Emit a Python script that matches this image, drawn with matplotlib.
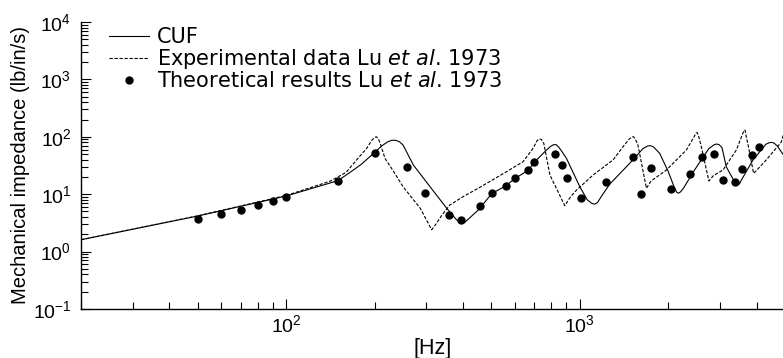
import matplotlib
matplotlib.use("Agg")
import matplotlib.pyplot as plt
from matplotlib.ticker import LogLocator, LogFormatterMathtext, NullFormatter

# ── Data ───────────────────────────────────────────────────────────────
cuf_f = [20, 50, 100, 150, 165, 180, 198, 212, 222, 229, 236, 243, 250, 271,
         309, 352, 380, 395, 405, 420, 451, 502, 560, 600, 667, 703, 760, 795,
         815, 830, 848, 870, 901, 1000, 1060, 1100, 1125, 1150, 1190, 1265,
         1479, 1640, 1700, 1740, 1780, 1830, 1871, 2000, 2100, 2140, 2165,
         2200, 2250, 2460, 2750, 2860, 2920, 2980, 3050, 3155, 3400, 3450,
         3500, 3560, 3890, 4300, 4420, 4500, 4580, 4700, 4897, 5000]
cuf_v = [1.61, 4.17, 9.3, 17.2, 24, 33, 51, 70, 82, 87, 87, 82, 72, 32.3,
         13.5, 5.7, 3.6, 3.15, 3.2, 3.8, 5.3, 10.3, 14, 18.7, 26, 36.8, 55, 68,
         73, 73, 66, 55, 42, 13.5, 8, 6.9, 6.7, 7.2, 9.5, 15,
         34.5, 62, 69, 70, 67, 58, 51.5, 25, 13, 10.8, 10.4,
         10.9, 12.5, 26.4, 62, 72, 75, 73, 65, 30, 15, 14.5,
         15.2, 18, 39.5, 74, 79, 80, 78, 70, 51.5, 45]

exp_f = [20, 50, 100, 141, 160, 174, 188, 196, 200, 203, 206, 209, 217, 232,
         250, 286, 313, 325, 339, 361, 401, 457, 563, 641, 693, 715, 727, 740,
         754, 791, 889, 930, 975, 1110, 1298, 1403, 1470, 1505, 1525, 1545,
         1578, 1686, 1750, 1973, 2307, 2450, 2490, 2515, 2550, 2594, 2753,
         2850, 3075, 3414, 3580, 3630, 3655, 3690, 3734, 3908, 4000, 4314,
         4850, 5000]
exp_v = [1.61, 4.2, 9.5, 16.8, 24, 40, 63, 88, 98, 100, 92, 77, 42, 25,
         13.5, 5.7, 2.4, 3.1, 4.3, 6.5, 9.1, 13.2, 24.7, 36.8, 63, 85, 92, 90,
         77, 21.6, 6.3, 9, 11.8, 21.6, 39.5, 67, 90, 100, 100, 92,
         72, 12.7, 17, 26.4, 58.9, 100, 117, 118, 95, 67, 17,
         21, 26.4, 58.9, 110, 130, 131, 100, 77, 23.1, 26, 39.5,
         80, 135]

theo_f = [50, 60, 70, 80, 90, 100, 150, 200, 258, 298, 359, 393, 458, 502,
          560, 600, 667, 701, 824, 869, 906, 1008, 1224, 1514, 1617, 1753,
          2040, 2372, 2606, 2857, 3065, 3367, 3573, 3863, 4062]
theo_v = [3.7, 4.47, 5.4, 6.56, 7.6, 8.8, 17.2, 52.9, 30.2, 10.6, 4.4, 3.6,
          6.2, 10.5, 14.1, 18.9, 26, 36.4, 50.8, 31.9, 18.9, 8.5, 16.5, 45,
          10.1, 28.3, 12.2, 22.5, 44, 50.8, 17.7, 16.1, 27.8, 47.6, 65.6]

labels = ["CUF",
          r"Experimental data Lu $\mathit{et\ al}$. 1973",
          r"Theoretical results Lu $\mathit{et\ al}$. 1973"]

# ── Figure ─────────────────────────────────────────────────────────────
plt.rcParams["font.family"] = ["Liberation Sans", "DejaVu Sans"]
plt.rcParams["mathtext.fontset"] = "custom"
plt.rcParams["mathtext.rm"] = "Liberation Sans"
plt.rcParams["mathtext.sf"] = "Liberation Sans"
plt.rcParams["mathtext.it"] = "DejaVu Sans:italic"

fig = plt.figure(figsize=(7.83, 3.58), dpi=100)
ax = fig.add_axes([81 / 783, 1 - 309 / 358, 704 / 783, 287 / 358])

ax.plot(cuf_f, cuf_v, color="black", lw=0.8, label=labels[0])
ax.plot(exp_f, exp_v, color="black", lw=0.8, ls=(0, (3, 1.5)), label=labels[1])
ax.plot(theo_f, theo_v, "o", color="black", ms=5, label=labels[2])

ax.set_xscale("log")
ax.set_yscale("log")
ax.set_xlim(20, 5000)
ax.set_ylim(0.1, 1e4)

ax.xaxis.set_major_locator(LogLocator(base=10))
ax.yaxis.set_major_locator(LogLocator(base=10))
ax.xaxis.set_minor_locator(LogLocator(base=10, subs=range(2, 10)))
ax.yaxis.set_minor_locator(LogLocator(base=10, subs=range(2, 10)))
ax.xaxis.set_major_formatter(LogFormatterMathtext())
ax.yaxis.set_major_formatter(LogFormatterMathtext())
ax.xaxis.set_minor_formatter(NullFormatter())
ax.yaxis.set_minor_formatter(NullFormatter())

for s in ["top", "right"]:
    ax.spines[s].set_visible(False)
for s in ["left", "bottom"]:
    ax.spines[s].set_linewidth(1.0)

ax.tick_params(which="both", direction="in", width=0.8, labelsize=14)
ax.tick_params(which="major", length=7)
ax.tick_params(which="minor", length=5)
ax.tick_params(axis="x", pad=4)
ax.tick_params(axis="y", pad=7)

ax.set_ylabel("Mechanical impedance (lb/in/s)", fontsize=14.5)
ax.yaxis.set_label_coords(-0.072, 0.5)
ax.set_xlabel("[Hz]", fontsize=15.5)
ax.xaxis.set_label_coords(0.5, -0.10)

ax.legend(loc="upper left", bbox_to_anchor=(0.04, 0.983), frameon=False,
          prop={"family": "DejaVu Sans", "size": 15},
          borderpad=0, borderaxespad=0, labelspacing=0.0,
          handlelength=1.9, handletextpad=0.4)

fig.savefig("out.png", dpi=100)
